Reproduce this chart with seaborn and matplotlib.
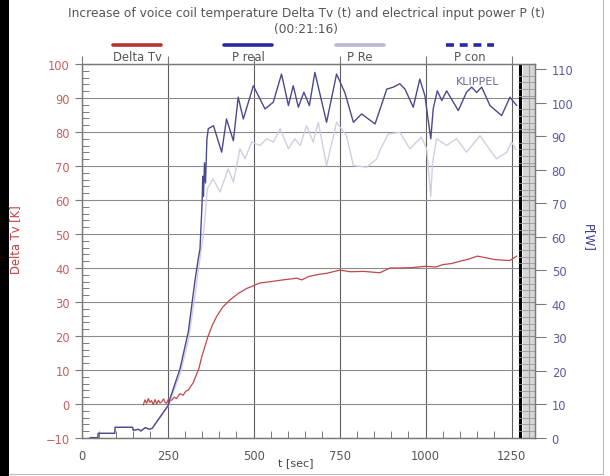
import numpy as np
import pandas as pd
import matplotlib
matplotlib.use("Agg")
import matplotlib.pyplot as plt
import seaborn as sns
from matplotlib.lines import Line2D
from matplotlib.patches import Rectangle
from matplotlib.ticker import MultipleLocator

# ---------------- data ----------------
t_delta = [179, 184, 189, 194, 198, 203, 208, 213, 218, 223,
           228, 233, 238, 243, 247, 252, 257, 262, 269, 276,
           285, 295, 303, 310, 317, 324, 333, 341, 349, 357,
           367, 379, 392, 410, 431, 455, 480, 500, 518, 550,
           585, 610, 625, 640, 660, 683, 715, 751, 780, 820,
           867, 896, 925, 960, 1000, 1030, 1050, 1075, 1100, 1125,
           1150, 1175, 1200, 1225, 1245, 1265]
delta_tv = [-0.3, 1.2, 0.2, 1.6, 0.5, 1.0, -0.2, 1.3, 0.0, 1.1,
            0.3, 0.7, 1.5, 0.4, 0.2, 1.4, 0.8, 1.2, 2.0, 1.6,
            3.0, 2.6, 3.8, 4.1, 5.2, 6.2, 8.5, 10.5, 13.9, 16.5,
            19.8, 23.0, 25.7, 28.5, 30.6, 32.5, 34.0, 34.8, 35.6, 36.0,
            36.5, 36.8, 37.0, 36.5, 37.5, 38.0, 38.5, 39.4, 38.9, 39.0,
            38.6, 40.0, 40.0, 40.1, 40.5, 40.3, 41.0, 41.3, 42.0, 42.6,
            43.5, 43.0, 42.5, 42.3, 42.2, 43.5]

t_preal = [24, 47, 48, 96, 97, 148, 150, 165, 172, 185,
           197, 205, 252, 257, 286, 310, 329, 339, 344, 350,
           352, 354, 357, 360, 364, 368, 383, 407, 421, 441,
           455, 470, 499, 533, 557, 581, 601, 615, 630, 646,
           662, 678, 712, 741, 765, 790, 814, 853, 887, 906,
           925, 940, 964, 983, 998, 1007, 1015, 1022, 1034, 1047,
           1061, 1095, 1119, 1134, 1148, 1163, 1187, 1221, 1245, 1265]
p_real = [0, 0, 1.3, 1.3, 3.1, 3.1, 2.2, 2.5, 2.0, 3.0,
          2.5, 2.8, 9.7, 11.7, 20.6, 31.6, 46.6, 53.4, 56.4, 70.0,
          78.0, 72.0, 82.0, 76.0, 89.0, 92.2, 93.1, 85.2, 95.1, 88.6,
          101.6, 95.1, 105.0, 98.1, 100.1, 108.5, 99.1, 105.0, 98.6, 103.1,
          99.1, 109.0, 94.1, 108.5, 103.0, 94.1, 96.6, 93.6, 104.0, 104.6,
          105.6, 104.0, 98.6, 107.0, 102.0, 95.1, 89.2, 98.1, 103.5, 100.6,
          103.5, 97.6, 103.1, 104.6, 103.0, 104.6, 99.1, 96.1, 101.6, 99.1]

t_pre = [24, 47, 48, 96, 97, 148, 150, 165, 172, 185, 197, 205,
         252, 257, 286, 310, 329, 339, 353, 360,
         365, 382, 402, 426, 441, 460, 475, 494, 518, 538,
         557, 577, 601, 620, 635, 654, 673, 688, 712, 741,
         770, 790, 829, 858, 867, 891, 925, 954, 988, 1003,
         1015, 1020, 1032, 1061, 1090, 1119, 1158, 1206, 1236, 1250,
         1262]
p_re = [0, 0, 1.3, 1.3, 3.1, 3.1, 2.2, 2.5, 2.0, 3.0, 2.5, 2.8,
        9.5, 11.0, 19.0, 29.0, 42.0, 50.0, 60.0, 67.3,
        74.3, 77.2, 73.3, 80.2, 76.3, 86.2, 83.2, 88.2, 87.2, 89.2,
        88.2, 92.2, 86.2, 89.2, 87.2, 93.1, 88.2, 94.1, 81.2, 94.1,
        90.1, 81.2, 80.7, 83.2, 85.7, 90.6, 91.1, 86.2, 89.7, 86.2,
        72.0, 82.0, 89.2, 87.2, 89.2, 85.2, 90.1, 83.2, 85.2, 88.2,
        86.0]

legend_labels = ["Delta Tv", "P real", "P Re", "P con"]
x_ticks = [0, 250, 500, 750, 1000, 1250]
title_1 = "Increase of voice coil temperature Delta Tv (t) and electrical input power P (t)"
title_2 = "(00:21:16)"

# ---------------- style ----------------
sns.set_style("white")
plt.rcParams['font.family'] = ['DejaVu Sans']

C_RED = '#c04848'
C_BLUE = '#4a4a8e'
C_LAV = '#cfcfe4'
C_LEG_RED = '#b83030'
C_LEG_BLUE = '#2828a0'
C_LEG_LAV = '#b8b8d6'
GRID = '#7a7a7a'

fig = plt.figure(figsize=(6.1, 4.77), dpi=100)
W, H = 610, 477
x0, x1, y0, y1 = 81.7, 535, 65, 439
ax = fig.add_axes([x0 / W, 1 - y1 / H, (x1 - x0) / W, (y1 - y0) / H])
ax2 = ax.twinx()

df_d = pd.DataFrame({"t": t_delta, "v": delta_tv})
df_p = pd.DataFrame({"t": t_preal, "v": p_real})
df_r = pd.DataFrame({"t": t_pre, "v": p_re})

sns.lineplot(data=df_d, x="t", y="v", ax=ax, color=C_RED, lw=0.9,
             estimator=None, sort=False)
sns.lineplot(data=df_r, x="t", y="v", ax=ax2, color=C_LAV, lw=1.0,
             estimator=None, sort=False)
sns.lineplot(data=df_p, x="t", y="v", ax=ax2, color=C_BLUE, lw=1.0,
             estimator=None, sort=False)

ax.set_xlim(0, 1318)
ax.set_ylim(-10, 100)
ax2.set_ylim(-0.1, 111.5)

ax.set_xticks(x_ticks)
ax.xaxis.set_minor_locator(MultipleLocator(50))
ax.yaxis.set_major_locator(MultipleLocator(10))
ax.yaxis.set_minor_locator(MultipleLocator(2))
ax2.yaxis.set_major_locator(MultipleLocator(10))
ax2.yaxis.set_minor_locator(MultipleLocator(2))

ax.grid(True, axis='x', which='major', color='#5e5e5e', lw=0.8)
ax.grid(True, axis='y', which='major', color='#8c8c8c', lw=0.8)
ax2.grid(False)

ax.tick_params(axis='x', which='major', direction='out', length=6, width=0.8,
               color=GRID, top=True, labeltop=False, labelsize=8.3,
               labelcolor='#555555', pad=2)
ax.tick_params(axis='x', which='minor', direction='in', length=5, width=0.7,
               color=GRID, top=False, bottom=True)
ax.tick_params(axis='y', which='major', direction='out', length=5, width=0.8,
               color=GRID, labelsize=8.3, labelcolor='#c86060', right=False)
ax.tick_params(axis='y', which='minor', direction='in', length=5, width=0.7,
               color=GRID, right=False)
ax2.tick_params(axis='y', which='major', direction='out', length=8, width=0.8,
                color=GRID, labelsize=8.3, labelcolor='#5a5aa0', pad=4)
ax2.tick_params(axis='y', which='minor', direction='in', length=12, width=0.6,
                color='#9a9a9a')

for a in (ax, ax2):
    for s in a.spines.values():
        s.set_color(GRID)
        s.set_linewidth(0.9)

# end-of-measurement marker strip
ax.axvspan(1282, 1318, color='#d6d6d6', zorder=0.5, lw=0)
ax.axvline(1273, color='black', lw=2.2, zorder=3)
ax.axvline(1300, color='#a0a0a0', lw=0.8, zorder=3)

ax.set_xlabel("t [sec]", fontsize=8, color='#444444')
ax.xaxis.set_label_coords((296 - x0) / (x1 - x0), -(458 - y1) / (y1 - y0))
ax.set_ylabel("Delta Tv [K]", fontsize=8.3, color='#c04040')
ax.yaxis.set_label_coords((22 - x0) / (x1 - x0), (y1 - 240) / (y1 - y0))
ax2.set_ylabel("P[W]", fontsize=8.5, color='#3a3a90', rotation=270, va='center')
ax2.yaxis.set_label_coords((588 - x0) / (x1 - x0), (y1 - 238) / (y1 - y0))

ax.text((456 - x0) / (x1 - x0), (y1 - 82) / (y1 - y0), "KLIPPEL",
        transform=ax.transAxes, fontsize=8, color='#6a6a98', ha='left', va='center')

# titles
fig.text(306 / W, 1 - 13 / H, title_1, ha='center', va='center', fontsize=8.8, color='#555555')
fig.text(306 / W, 1 - 29 / H, title_2, ha='center', va='center', fontsize=8.8, color='#555555')

# legend (line above label)
leg_styles = [(C_LEG_RED, '-'), (C_LEG_BLUE, '-'), (C_LEG_LAV, '-'), (C_LEG_BLUE, (0, (2.2, 1.6)))]
leg_centers = [137, 248, 360, 470]
for lab, (c, ls), xc in zip(legend_labels, leg_styles, leg_centers):
    fig.add_artist(Line2D([(xc - 24) / W, (xc + 24) / W], [1 - 46 / H] * 2,
                          color=c, lw=2.6, ls=ls, transform=fig.transFigure))
    fig.text(xc / W, 1 - 57.5 / H, lab, ha='center', va='center', fontsize=8.4, color='#555555')

# screenshot frame
fig.add_artist(Rectangle((0, 0), 9 / W, 1, transform=fig.transFigure, color='black', lw=0))
fig.add_artist(Line2D([603 / W, 603 / W], [1 - 475 / H, 1], color='#bbbbbb', lw=0.8,
                      transform=fig.transFigure))
fig.add_artist(Line2D([9 / W, 603 / W], [1 - 475 / H] * 2, color='#bbbbbb', lw=0.8,
                      transform=fig.transFigure))

fig.savefig("out.png", dpi=100)
